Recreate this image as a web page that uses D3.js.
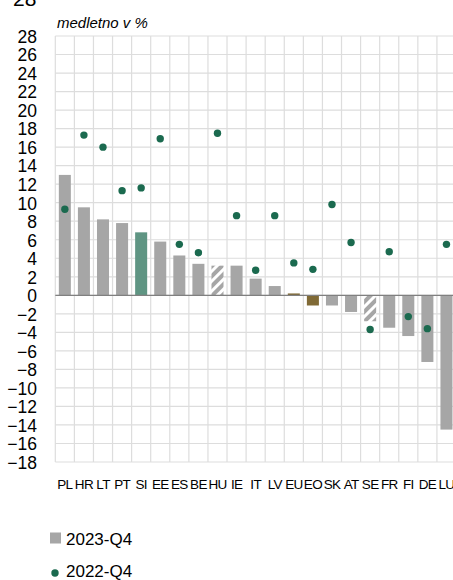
<!DOCTYPE html>
<html>
<head>
<meta charset="utf-8">
<script src="https://cdn.jsdelivr.net/npm/d3@7"></script>
<style>
  html, body { margin: 0; padding: 0; background: #fff; }
  svg { display: block; }
  text { font-family: "Liberation Sans", Arial, sans-serif; fill: #000; }
</style>
</head>
<body>
<svg id="chart" width="453" height="580"></svg>
<script>
// ---- data ----
const categories = ["PL","HR","LT","PT","SI","EE","ES","BE","HU","IE","IT","LV","EU","EO","SK","AT","SE","FR","FI","DE","LU"];
const values2023Q4 = [13.0, 9.5, 8.2, 7.8, 6.8, 5.8, 4.3, 3.4, 3.2, 3.2, 1.8, 1.0, 0.2, -1.1, -1.1, -1.8, -2.8, -3.5, -4.4, -7.2, -14.5];
const values2022Q4 = [9.3, 17.3, 16.0, 11.3, 11.6, 16.9, 5.5, 4.6, 17.5, 8.6, 2.7, 8.6, 3.5, 2.8, 9.8, 5.7, -3.7, 4.7, -2.3, -3.6, 5.5];
const barKinds = ["gray","gray","gray","gray","highlight","gray","gray","gray","hatch","gray","gray","gray","aggregate","aggregate","gray","gray","hatch","gray","gray","gray","gray"];
const yTicks = [28,26,24,22,20,18,16,14,12,10,8,6,4,2,0,-2,-4,-6,-8,-10,-12,-14,-16,-18];
const seriesNames = ["2023-Q4", "2022-Q4"];
const unitLabel = "medletno v %";
const topLabel = "28";

// ---- styles ----
const colors = { gray: "#a6a6a6", highlight: "#5f9583", aggregate: "#806a36", dot: "#1b6a4f" };

const svg = d3.select("#chart");
const plot = { left: 55.3, right: 456, top: 36, bottom: 462 };

const x = d3.scaleBand().domain(categories).range([plot.left, plot.right]).padding(0);
const y = d3.scaleLinear().domain([-18, 28]).range([plot.bottom, plot.top]);

// hatch pattern
const defs = svg.append("defs");
const pat = defs.append("pattern")
  .attr("id", "hatch").attr("patternUnits", "userSpaceOnUse")
  .attr("width", 7).attr("height", 7)
  .attr("patternTransform", "rotate(45)");
pat.append("rect").attr("width", 7).attr("height", 7).attr("fill", "#fff");
pat.append("rect").attr("width", 4).attr("height", 7).attr("fill", colors.gray);

// top cut-off label
svg.append("text").attr("x", 13).attr("y", 6).attr("font-size", 21).text(topLabel);

// unit label
svg.append("text").attr("x", 57).attr("y", 28).attr("font-size", 15)
  .attr("font-style", "italic").text(unitLabel);

// grid
const grid = svg.append("g").attr("stroke", "#dddddd").attr("stroke-width", 1.2);
grid.selectAll("line.h").data(yTicks).join("line")
  .attr("x1", plot.left).attr("x2", plot.right)
  .attr("y1", d => y(d)).attr("y2", d => y(d));
const bounds = categories.map(c => x(c)).concat([x(categories[categories.length-1]) + x.bandwidth()]);
grid.selectAll("line.v").data(bounds).join("line")
  .attr("x1", d => d).attr("x2", d => d)
  .attr("y1", plot.top).attr("y2", plot.bottom);

// bars
const bw = x.bandwidth() * 0.63;
svg.append("g").selectAll("rect").data(categories).join("rect")
  .attr("x", (c) => x(c) + (x.bandwidth() - bw) / 2)
  .attr("width", bw)
  .attr("y", (c, i) => y(Math.max(0, values2023Q4[i])))
  .attr("height", (c, i) => Math.abs(y(values2023Q4[i]) - y(0)))
  .attr("fill", (c, i) => barKinds[i] === "hatch" ? "url(#hatch)" : colors[barKinds[i]]);

// zero line
svg.append("line").attr("x1", plot.left).attr("x2", plot.right)
  .attr("y1", y(0)).attr("y2", y(0)).attr("stroke", "#808080").attr("stroke-width", 1.2);

// dots
svg.append("g").selectAll("circle").data(categories).join("circle")
  .attr("cx", c => x(c) + x.bandwidth() / 2)
  .attr("cy", (c, i) => y(values2022Q4[i]))
  .attr("r", 3.7).attr("fill", colors.dot);

// y axis labels
const yAxis = svg.append("g").attr("transform", "translate(37,0)")
  .call(d3.axisLeft(y).tickValues(yTicks).tickSize(0).tickPadding(0).tickFormat(d3.format("d")));
yAxis.select(".domain").remove();
yAxis.selectAll("text").attr("font-size", 17.5).attr("font-family", "'Liberation Sans', Arial, sans-serif")
  .attr("fill", "#000").attr("dy", "0.36em");

// x axis labels
const xAxis = svg.append("g").attr("transform", `translate(0,${plot.bottom})`)
  .call(d3.axisBottom(x).tickSize(0).tickPadding(17));
xAxis.select(".domain").remove();
xAxis.selectAll("text").attr("font-size", 13.5).attr("letter-spacing", "-0.7px")
  .attr("font-family", "'Liberation Sans', Arial, sans-serif").attr("fill", "#000");

// legend
const lg = svg.append("g");
lg.append("rect").attr("x", 50).attr("y", 532.5).attr("width", 11).attr("height", 11).attr("fill", colors.gray);
lg.append("text").attr("x", 66).attr("y", 545).attr("font-size", 17).text(seriesNames[0]);
lg.append("circle").attr("cx", 55).attr("cy", 573).attr("r", 3.7).attr("fill", colors.dot);
lg.append("text").attr("x", 66).attr("y", 577).attr("font-size", 17).text(seriesNames[1]);
</script>
</body>
</html>
